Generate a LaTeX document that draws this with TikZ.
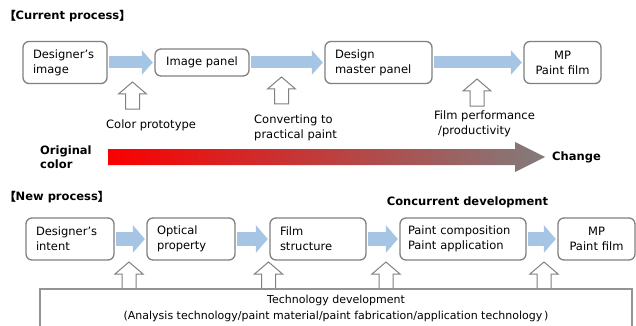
\documentclass[tikz,border=0pt]{standalone}
\usepackage{fontspec}
\setmainfont{DejaVu Sans}
\newfontfamily\cjkfont[FakeBold=2]{Noto Sans CJK JP}
\usetikzlibrary{arrows.meta}
\definecolor{boxgray}{RGB}{128,128,128}
\definecolor{arrblue}{RGB}{166,196,228}
\definecolor{endgray}{RGB}{130,124,124}
\definecolor{startred}{RGB}{250,0,0}
\begin{document}
\begin{tikzpicture}[x=1pt,y=-1pt,
  font=\fontsize{11.5}{15}\selectfont,
  procbox/.style={draw=boxgray, line width=1.3pt, rounded corners=6pt,
    minimum height=42pt, inner xsep=10pt, inner ysep=0pt, align=left, fill=white},
  topblue/.style={draw=arrblue, line width=12pt, shorten <=1.5pt, shorten >=1.5pt,
    -{Triangle[length=11pt,width=24pt]}},
  botblue/.style={draw=arrblue, line width=14pt, shorten <=1.5pt, shorten >=1.5pt,
    -{Triangle[length=12pt,width=27pt]}},
  lbl/.style={inner sep=0pt, anchor=west, align=left},
  hdr/.style={inner sep=0pt, anchor=west, font=\fontsize{11.5}{13.5}\selectfont\bfseries},
  hollowup/.pic={\draw[draw=boxgray, fill=white, line width=1pt, line join=miter]
    (-7,27) -- (-7,12) -- (-14,12) -- (0,0) -- (14,12) -- (7,12) -- (7,27) -- cycle;}
]
\useasboundingbox (0,0) rectangle (636,326);

% ---------- Current process ----------
\node[hdr] (h1) at (4,16) {{\cjkfont\mdseries 【}Current process{\cjkfont\mdseries 】}};

\node[procbox, text width=64pt] (d1) at (65,62.5) {Designer’s\\image};
\node[procbox, minimum height=27pt, minimum width=94pt, align=center] (ip) at (202,62.5) {Image panel};
\node[procbox, text width=87pt] (dm) at (378.5,62.5) {Design\\master panel};
\node[procbox, text width=57pt, align=center] (mp) at (562.5,62.5) {MP\\Paint film};

\draw[topblue] (d1.east) -- (ip.west);
\draw[topblue] (ip.east) -- (dm.west);
\draw[topblue] (dm.east) -- (mp.west);

\pic at (132.5,82) {hollowup};
\pic at (281.5,77) {hollowup};
\pic at (477,79) {hollowup};

\node[lbl] (l1) at (106,125) {Color prototype};
\node[lbl] (l2) at (254,128) {Converting to\\practical paint};
\node[lbl] (l3) at (434,124) {Film performance\\\hspace*{4pt}/productivity};

\node[hdr, align=left] (oc) at (40,157) {Original\\color};
\shade[left color=startred, right color=endgray]
  (108,149) -- (515,149) -- (515,142) -- (545,157) -- (515,172) -- (515,165) -- (108,165) -- cycle;
\node[hdr] (ch) at (552,157) {Change};

% ---------- New process ----------
\node[hdr] (h2) at (4,197) {{\cjkfont\mdseries 【}New process{\cjkfont\mdseries 】}};
\node[hdr, anchor=center] (cd) at (467.5,202) {Concurrent development};

\node[procbox, minimum width=88pt, text width=68pt] (b1) at (70,239) {Designer’s\\intent};
\node[procbox, minimum width=88pt, text width=68pt] (b2) at (191,239) {Optical\\property};
\node[procbox, minimum width=96pt, text width=76pt] (b3) at (318,239) {Film\\structure};
\node[procbox, minimum width=126pt, text width=110pt, inner xsep=8pt] (b4) at (463,239) {Paint composition\\Paint application};
\node[procbox, minimum width=77pt, text width=57pt, align=center] (b5) at (596.5,239) {MP\\Paint film};

\draw[botblue] (b1.east) -- (b2.west);
\draw[botblue] (b2.east) -- (b3.west);
\draw[botblue] (b3.east) -- (b4.west);
\draw[botblue] (b4.east) -- (b5.west);

\pic at (129,262) {hollowup};
\pic at (268.5,262) {hollowup};
\pic at (386,262) {hollowup};
\pic at (544,262) {hollowup};

\draw[draw=boxgray!85, line width=1.5pt] (40,335) -- (40,289) -- (632,289) -- (632,335);
\node[inner sep=0pt, align=center, font=\fontsize{11}{16}\selectfont] (tech) at (336,308.5)
  {Technology development\\(Analysis technology/paint material/paint fabrication/application technology\,)};
\end{tikzpicture}
\end{document}
